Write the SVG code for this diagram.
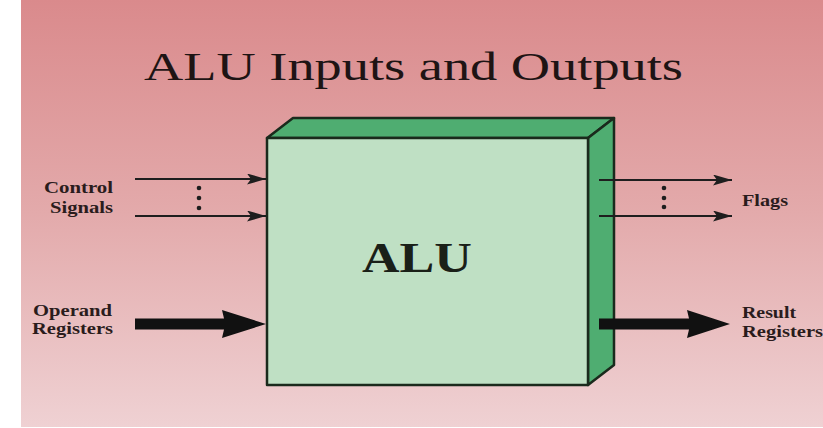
<svg xmlns="http://www.w3.org/2000/svg" width="823" height="428" viewBox="0 0 823 428">
<defs>
<linearGradient id="bg" x1="0" y1="0" x2="0" y2="1">
<stop offset="0" stop-color="#da8a8c"/>
<stop offset="0.5" stop-color="#e3aaab"/>
<stop offset="1" stop-color="#efd1d3"/>
</linearGradient>
<marker id="ah" markerWidth="19" markerHeight="11" refX="19" refY="5.5" orient="auto" markerUnits="userSpaceOnUse">
<path d="M0,0 L19,5.5 L0,11 L4,5.5 Z" fill="#1e1e1e"/>
</marker>
<style>
.lbl{font-family:"Liberation Serif","Times New Roman",serif;font-weight:bold;font-size:17px;fill:#2a1c1c}
.thin{stroke:#1e1e1e;stroke-width:2;fill:none}
.face{stroke:#1a2a1c;stroke-width:2.5;stroke-linejoin:round}
.dot{fill:#1e1e1e}
</style>
</defs>
<rect x="0" y="0" width="823" height="428" fill="#ffffff"/>
<rect x="21" y="0" width="802" height="427" fill="url(#bg)"/>
<text x="144" y="80" font-family="'Liberation Serif','Times New Roman',serif" font-size="40" fill="#1e1414" textLength="539" lengthAdjust="spacingAndGlyphs">ALU Inputs and Outputs</text>
<g id="alu">
<polygon class="face" points="267,138 293,118 614,118 588,138" fill="#4fad71"/>
<polygon class="face" points="588,138 614,118 614,365 588,385" fill="#4fad71"/>
<rect class="face" x="267" y="138" width="321" height="247" fill="#bfe0c4"/>
<text x="362" y="272" font-family="'Liberation Serif','Times New Roman',serif" font-weight="bold" font-size="42" fill="#1a2018" textLength="110" lengthAdjust="spacingAndGlyphs">ALU</text>
</g>
<g id="control-signals">
<text class="lbl" x="44" y="193" textLength="69" lengthAdjust="spacingAndGlyphs">Control</text>
<text class="lbl" x="50" y="213" textLength="63" lengthAdjust="spacingAndGlyphs">Signals</text>
</g>
<g id="operand-registers">
<text class="lbl" x="33" y="316" textLength="79" lengthAdjust="spacingAndGlyphs">Operand</text>
<text class="lbl" x="32" y="334" textLength="81" lengthAdjust="spacingAndGlyphs">Registers</text>
</g>
<g id="flags">
<text class="lbl" x="742" y="206" textLength="46" lengthAdjust="spacingAndGlyphs">Flags</text>
</g>
<g id="result-registers">
<text class="lbl" x="742" y="318" textLength="54" lengthAdjust="spacingAndGlyphs">Result</text>
<text class="lbl" x="742" y="337" textLength="81" lengthAdjust="spacingAndGlyphs">Registers</text>
</g>
<g id="connectors">
<line class="thin" x1="135" y1="179" x2="266" y2="179" marker-end="url(#ah)"/>
<line class="thin" x1="135" y1="216" x2="266" y2="216" marker-end="url(#ah)"/>
<circle class="dot" cx="199" cy="188" r="2.3"/>
<circle class="dot" cx="199" cy="198" r="2.3"/>
<circle class="dot" cx="199" cy="208" r="2.3"/>
<polygon points="135,318.5 224,318.5 222,310 266,324 222,338 224,329.5 135,329.5" fill="#111"/>
<line class="thin" x1="599" y1="180" x2="732" y2="180" marker-end="url(#ah)"/>
<line class="thin" x1="599" y1="216" x2="732" y2="216" marker-end="url(#ah)"/>
<circle class="dot" cx="664" cy="188" r="2.3"/>
<circle class="dot" cx="664" cy="198" r="2.3"/>
<circle class="dot" cx="664" cy="207" r="2.3"/>
<polygon points="599,318.5 689,318.5 687,310 730,324 687,338 689,329.5 599,329.5" fill="#111"/>
</g>
</svg>
